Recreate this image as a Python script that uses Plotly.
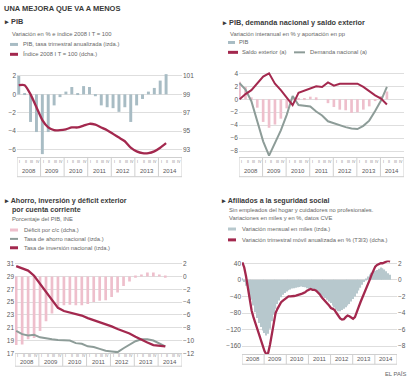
import plotly.graph_objects as go

W, H = 414, 386
def px(x): return x / W
def py(y): return 1 - y / H

# ---------------- data ----------------
years = ["2008", "2009", "2010", "2011", "2012", "2013", "2014"]
quarter_labels = ["I", "II", "III", "IV"]
q = list(range(26))          # 2008 I T ... 2014 II T
m = list(range(81))          # ene 2008 ... sep 2014

# Panel 1: PIB
pib_trim = [2.0, 0.1, -3.0, -4.1, -6.5, -4.1, -1.2, -0.3, 0.3, 0.8, 0.1, 0.9, 0.8, -0.2,
            -1.2, -1.4, -1.5, -1.9, -1.4, -3.0, -1.2, -0.5, 0.3, 0.7, 1.5, 2.2]
indice = [100.0, 100.0, 99.0, 97.6, 96.2, 95.4, 95.1, 95.1, 95.2, 95.4, 95.4, 95.6, 95.8,
          95.7, 95.4, 95.1, 94.7, 94.3, 93.9, 93.2, 92.8, 92.6, 92.6, 92.8, 93.2, 93.7]

# Panel 2: PIB, demanda nacional y saldo exterior
pib_yoy = [2.7, 1.9, 0.3, -1.3, -3.5, -4.4, -3.9, -3.0, -1.4, -0.1, 0.1, 0.2, 0.4, 0.3,
           0.0, -0.6, -1.2, -1.6, -1.7, -2.1, -2.0, -1.6, -1.1, -0.2, 0.5, 1.2]
saldo = [0.0, 0.8, 1.4, 2.4, 3.5, 4.0, 2.4, 1.4, 0.3, -0.9, 1.0, 1.3, 1.6, 2.0, 1.9, 2.6,
         2.1, 2.4, 2.4, 2.4, 2.4, 1.9, 1.2, 0.6, 0.1, -0.8]
demanda = [2.5, 1.5, -0.3, -3.4, -6.5, -8.7, -6.8, -4.8, -2.4, 0.5, -0.9, -1.0, -1.1, -1.9,
           -2.5, -3.4, -3.7, -4.1, -4.3, -4.5, -4.6, -4.1, -3.3, -1.8, -0.2, 1.9]

# Panel 3: Ahorro, inversión y déficit
deficit = [-10.7, -10.6, -9.8, -9.6, -8.5, -7.0, -5.8, -4.8, -4.5, -4.4, -4.5, -4.5, -4.3,
           -4.0, -3.8, -3.7, -3.2, -2.5, -1.5, -0.8, -0.2, 0.3, 0.6, 0.6, 0.2, -0.2]
ahorro = [20.5, 20.0, 19.8, 19.9, 19.5, 19.3, 19.2, 19.1, 19.1, 19.0, 18.6, 18.5, 18.1,
          18.0, 17.7, 17.4, 17.3, 17.2, 17.8, 18.3, 18.9, 19.2, 19.2, 19.0, 18.6, 18.1]
inversion = [30.6, 30.3, 29.9, 29.1, 27.8, 26.6, 25.2, 24.1, 23.6, 23.4, 23.1, 22.9, 22.5,
             22.2, 21.9, 21.6, 21.2, 20.8, 20.5, 20.1, 19.6, 19.1, 18.7, 18.3, 18.2, 18.1]

# Panel 4: Afiliados
afil_mes = [4, -5, -14, -22, -35, -48, -62, -78, -92, -104, -114, -122, -128, -134, -130,
            -118, -100, -84, -70, -58, -50, -42, -36, -32, -28, -25, -23, -21, -20, -19,
            -18, -17, -16, -17, -18, -20, -22, -23, -24, -26, -28, -31, -34, -37, -40,
            -44, -48, -52, -56, -62, -67, -72, -76, -76, -73, -70, -66, -62, -58, -52,
            -46, -40, -33, -26, -19, -12, -5, 2, 8, 13, 17, 20, 22, 24, 27, 30, 28, 25,
            21, 16, 12]
afil_t3i3 = [2.1, 1.5, 0.4, -1.0, -2.6, -3.7, -4.5, -5.2, -5.8, -6.4, -7.1, -8.0, -8.6,
             -9.0, -8.8, -7.8, -6.4, -5.1, -4.0, -3.5, -3.0, -2.7, -2.5, -2.3, -2.1, -2.0,
             -2.0, -2.0, -1.95, -1.9, -1.85, -1.75, -1.7, -1.6, -1.5, -1.3, -1.15, -1.1,
             -1.2, -1.2, -1.3, -1.5, -1.75, -2.1, -2.4, -2.6, -2.85, -3.1, -3.4, -3.5,
             -3.65, -4.0, -4.4, -4.65, -4.8, -4.75, -4.5, -4.3, -4.4, -4.6, -4.7, -4.5,
             -4.0, -3.3, -2.7, -2.2, -1.6, -1.1, -0.5, 0.0, 0.6, 1.2, 1.6, 1.8, 1.9, 2.0,
             2.0, 2.1, 2.2, 2.3, 2.2]

# ---------------- style ----------------
RED = "#a3284e"
GRAYL = "#8d9c98"
BLUE = "#a8bcc4"
BLUE4 = "#b7c8cd"
PINK = "#eebfcc"
GRID = "#dedede"
TXT = "#3a3a3a"
SUB = "#666666"
TICK = "#5a5a5a"
FONT = "Liberation Sans, Arial, sans-serif"

fig = go.Figure()

# Panel 1
fig.add_trace(go.Bar(x=q, y=pib_trim, xaxis="x", yaxis="y", marker_color=BLUE,
                     marker_line_width=0, width=0.5))
fig.add_trace(go.Scatter(x=q, y=indice, xaxis="x", yaxis="y2", mode="lines",
                         line=dict(color=RED, width=2.3, shape="spline", smoothing=0.6)))
# Panel 2
fig.add_trace(go.Bar(x=q, y=pib_yoy, xaxis="x2", yaxis="y3", marker_color=PINK,
                     marker_line_width=0, width=0.45))
fig.add_trace(go.Scatter(x=q, y=demanda, xaxis="x2", yaxis="y3", mode="lines",
                         line=dict(color=GRAYL, width=2)))
fig.add_trace(go.Scatter(x=q, y=saldo, xaxis="x2", yaxis="y3", mode="lines",
                         line=dict(color=RED, width=2)))
# Panel 3 (bars on base right axis, lines on overlaying left axis)
fig.add_trace(go.Bar(x=q, y=deficit, xaxis="x3", yaxis="y4", marker_color=PINK,
                     marker_line_width=0, width=0.45))
fig.add_trace(go.Scatter(x=q, y=ahorro, xaxis="x3", yaxis="y5", mode="lines",
                         line=dict(color=GRAYL, width=2)))
fig.add_trace(go.Scatter(x=q, y=inversion, xaxis="x3", yaxis="y5", mode="lines",
                         line=dict(color=RED, width=2.3)))
# Panel 4
fig.add_trace(go.Bar(x=m, y=afil_mes, xaxis="x4", yaxis="y6", marker_color=BLUE4,
                     marker_line_width=0, width=0.7))
fig.add_trace(go.Scatter(x=m, y=afil_t3i3, xaxis="x4", yaxis="y7", mode="lines",
                         line=dict(color=RED, width=2.3)))

tickfont = dict(size=6.5, color=TICK, family=FONT)

def xq(dom, rng, anchor):
    return dict(domain=[px(dom[0]), px(dom[1])], range=rng, anchor=anchor,
                showgrid=False, zeroline=False, showline=True, linecolor="#cfcfcf",
                linewidth=1, ticks="", showticklabels=False)

def yax(dom, rng, vals, anchor, side="left", grid=True, overlay=None):
    d = dict(domain=[py(dom[1]), py(dom[0])], range=rng, anchor=anchor, side=side,
             showgrid=grid, gridcolor=GRID, gridwidth=1, zeroline=False,
             showline=False, ticks="", tickmode="array", tickvals=vals,
             tickfont=tickfont)
    if overlay:
        d["overlaying"] = overlay
    return d

P1X, P1Y = (17, 182), (73, 157)
P2X, P2Y = (239, 404), (70, 157)
P3X, P3Y = (15, 182), (262, 356)
P4X, P4Y = (242, 397), (262, 357)

R1 = [-6.81, 2.21]
R2 = [-8.91, 4.35]
R3 = [17.0, 31.46]
R4 = [-179.8, 46.4]

fig.update_layout(
    width=W, height=H, margin=dict(l=0, r=0, t=0, b=0),
    paper_bgcolor="white", plot_bgcolor="white", showlegend=False,
    barmode="overlay", font=dict(family=FONT, color=TXT), hovermode=False,
    xaxis=xq(P1X, [-0.3, 27.7], "y"),
    yaxis=yax(P1Y, R1, [2, 0, -2, -4, -6], "x"),
    yaxis2=yax(P1Y, [R1[0] + 99, R1[1] + 99], [101, 99, 97, 95, 93], "x",
               side="right", grid=False, overlay="y"),
    xaxis2=xq(P2X, [-0.1, 27.9], "y3"),
    yaxis3=yax(P2Y, R2, [4, 2, 0, -2, -4, -6, -8], "x2"),
    xaxis3=xq(P3X, [-0.2, 27.8], "y4"),
    yaxis4=yax(P3Y, [R3[0] - 29, R3[1] - 29], [2, 0, -2, -4, -6, -8, -10, -12], "x3",
               side="right"),
    yaxis5=yax(P3Y, R3, [31, 29, 27, 25, 23, 21, 19, 17], "x3", grid=False,
               overlay="y4"),
    xaxis4=xq(P4X, [-0.2, 83.8], "y6"),
    yaxis6=yax(P4Y, R4, [40, 0, -40, -80, -120, -160], "x4"),
    yaxis7=yax(P4Y, [R4[0] / 20, R4[1] / 20], [2, 0, -2, -4, -6, -8], "x4",
               side="right", grid=False, overlay="y6"),
)

shapes = []
annotations = []

def ann(text, x, y, size, color=TXT, bold=False, xanchor="left"):
    annotations.append(dict(text=("<b>%s</b>" % text) if bold else text,
                            x=px(x), y=py(y), xref="paper", yref="paper",
                            xanchor=xanchor, yanchor="middle", showarrow=False,
                            font=dict(size=size, color=color, family=FONT)))

def swatch(x0, x1, y, color, width):
    shapes.append(dict(type="line", xref="paper", yref="paper", x0=px(x0), x1=px(x1),
                       y0=py(y), y1=py(y), line=dict(color=color, width=width)))

def year_box(xref, offset, per_year, top, bottom, ylab, yq=None):
    for k in range(8):
        xv = per_year * k + offset
        shapes.append(dict(type="line", xref=xref, yref="paper", x0=xv, x1=xv,
                           y0=py(bottom), y1=py(top),
                           line=dict(color="#cfcfcf", width=1)))
    shapes.append(dict(type="line", xref=xref, yref="paper", x0=offset,
                       x1=offset + per_year * 7, y0=py(bottom), y1=py(bottom),
                       line=dict(color="#cfcfcf", width=1)))
    for k, yr in enumerate(years):
        annotations.append(dict(text=yr, x=offset + per_year * k + per_year / 2,
                                y=py(ylab), xref=xref, yref="paper",
                                xanchor="center", yanchor="middle", showarrow=False,
                                font=dict(size=6, color=TICK, family=FONT)))
    if yq is not None:
        for k in range(7):
            for j, ql in enumerate(quarter_labels):
                annotations.append(dict(text=ql, x=offset + 4 * k + j + 0.5,
                                        y=py(yq), xref=xref, yref="paper",
                                        xanchor="center", yanchor="middle",
                                        showarrow=False,
                                        font=dict(size=3.6, color="#8a8a8a",
                                                  family=FONT)))

year_box("x", -0.3, 4, 157, 177, 171.5, yq=162.5)
year_box("x2", -0.1, 4, 157, 177, 171.5, yq=162.5)
year_box("x3", -0.2, 4, 356, 369, 365, yq=359)
year_box("x4", -0.2, 12, 357, 367, 362)

# Titles
ann("UNA MEJORA QUE VA A MENOS", 2, 7, 7.5, bold=True)

# Panel 1 header
ann("▸ PIB", 2, 20, 7.3, bold=True)
ann("Variación en % e índice 2008 I T = 100", 10, 32, 5.8, color=SUB)
swatch(10, 18, 43, BLUE, 3)
ann("PIB, tasa trimestral anualizada (izda.)", 21, 43, 5.8, color=SUB)
swatch(10, 18, 53, RED, 3)
ann("Índice 2008 I T = 100 (dcha.)", 21, 53, 5.8, color=SUB)

# Panel 2 header
ann("▸ PIB, demanda nacional y saldo exterior", 220, 21, 7.3, bold=True)
ann("Variación interanual en % y aportación en pp", 228, 32, 5.8, color=SUB)
swatch(228, 235, 41, BLUE, 3)
ann("PIB", 237, 41, 5.8, color=SUB)
swatch(228, 238, 51, RED, 3)
ann("Saldo exterior (a)", 240, 51, 5.8, color=SUB)
swatch(294, 305, 51, GRAYL, 2)
ann("Demanda nacional (a)", 308, 51, 5.8, color=SUB)

# Panel 3 header
ann("▸ Ahorro, inversión y déficit exterior", 2, 202, 7.1, bold=True)
ann("por cuenta corriente", 10, 211, 7.1, bold=True)
ann("Porcentaje del PIB, INE", 10, 220, 5.8, color=SUB)
swatch(10, 18, 231, PINK, 3)
ann("Déficit por c/c (dcha.)", 22, 231, 5.8, color=SUB)
swatch(10, 18, 240, GRAYL, 2)
ann("Tasa de ahorro nacional (izda.)", 22, 240, 5.8, color=SUB)
swatch(10, 18, 249, RED, 3)
ann("Tasa de inversión nacional (izda.)", 22, 249, 5.8, color=SUB)

# Panel 4 header
ann("▸ Afiliados a la seguridad social", 219, 202, 7.1, bold=True)
ann("Sin empleados del hogar y cuidadores no profesionales.", 227, 211, 5.8, color=SUB)
ann("Variaciones en miles y en %, datos CVE", 227, 219, 5.8, color=SUB)
swatch(228, 236, 230, BLUE4, 3)
ann("Variación mensual en miles (izda.)", 240, 230, 5.8, color=SUB)
swatch(228, 236, 241, RED, 3)
ann("Variación trimestral móvil anualizada en % (T3I3) (dcha.)", 240, 241, 5.8, color=SUB)

ann("EL PAÍS", 408, 377, 5.8, color=SUB, xanchor="right")

fig.update_layout(shapes=shapes, annotations=annotations)
fig.write_html("out.html", config={"displayModeBar": False},
               post_script="document.body.style.margin='0';"
                           "document.body.style.overflow='hidden';")
